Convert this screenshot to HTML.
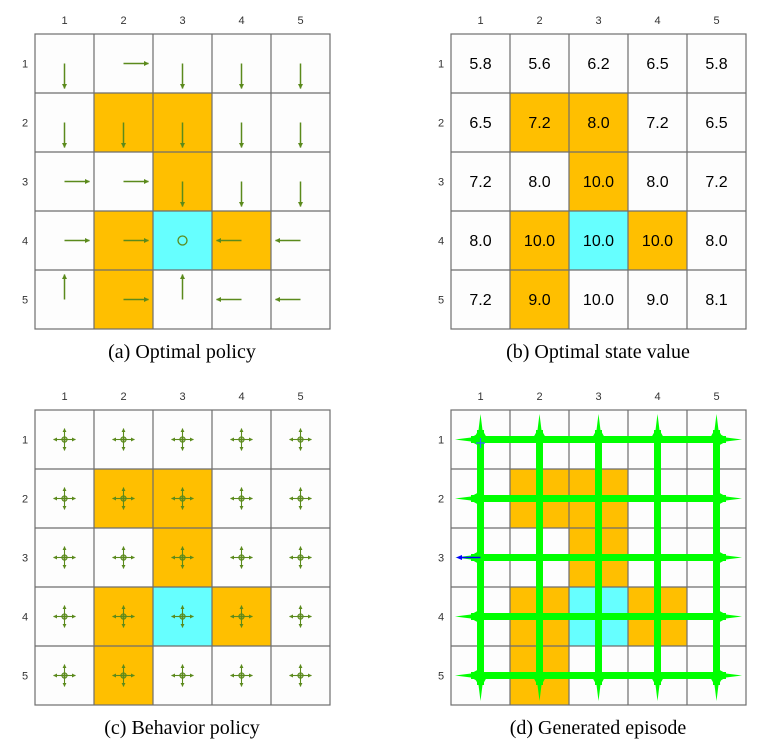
<!DOCTYPE html>
<html><head><meta charset="utf-8"><style>
html,body{margin:0;padding:0;background:#fff;width:777px;height:750px;overflow:hidden}
svg{display:block}
.ax{font-family:"Liberation Sans",sans-serif;font-size:11px;fill:#333}
.cap{font-family:"Liberation Serif",serif;font-size:20px;fill:#000}
.v{font-family:"Liberation Sans",sans-serif;font-size:16px;fill:#000}
</style></head><body>
<svg width="777" height="750" viewBox="0 0 777 750" xmlns="http://www.w3.org/2000/svg">
<defs>
<marker id="ah" viewBox="0 0 10 10" refX="9" refY="5" markerWidth="7" markerHeight="5" orient="auto" markerUnits="userSpaceOnUse"><path d="M0,0 L10,5 L0,10 z" fill="#5b8a1c"/></marker>
<marker id="ahs" viewBox="0 0 10 10" refX="9" refY="5" markerWidth="4" markerHeight="4" orient="auto" markerUnits="userSpaceOnUse"><path d="M0,0 L10,5 L0,10 z" fill="#5b8a1c"/></marker>
<g id="bg">
<rect x="0" y="0" width="295" height="295" fill="#fdfdfd"/>
<rect x="59" y="59" width="59" height="59" fill="#FFBF00"/>
<rect x="118" y="59" width="59" height="59" fill="#FFBF00"/>
<rect x="118" y="118" width="59" height="59" fill="#FFBF00"/>
<rect x="59" y="177" width="59" height="59" fill="#FFBF00"/>
<rect x="177" y="177" width="59" height="59" fill="#FFBF00"/>
<rect x="59" y="236" width="59" height="59" fill="#FFBF00"/>
<rect x="118" y="177" width="59" height="59" fill="#66FFFF"/>
<g stroke="#6e6e6e" stroke-width="1.2" fill="none">
<rect x="0" y="0" width="295" height="295"/>
<path d="M59,0V295M118,0V295M177,0V295M236,0V295M0,59H295M0,118H295M0,177H295M0,236H295"/>
</g>
</g>
<g id="lab" class="ax" text-anchor="middle">
<text x="29.5" y="-10">1</text><text x="88.5" y="-10">2</text><text x="147.5" y="-10">3</text><text x="206.5" y="-10">4</text><text x="265.5" y="-10">5</text>
<text x="-10" y="33.5">1</text><text x="-10" y="92.5">2</text><text x="-10" y="151.5">3</text><text x="-10" y="210.5">4</text><text x="-10" y="269.5">5</text>
</g>
<path id="D" d="M0,0V25" stroke="#5b8a1c" stroke-width="1.5" marker-end="url(#ah)"/>
<path id="R" d="M0,0H25" stroke="#5b8a1c" stroke-width="1.5" marker-end="url(#ah)"/>
<path id="L" d="M0,0H-25" stroke="#5b8a1c" stroke-width="1.5" marker-end="url(#ah)"/>
<path id="U" d="M0,0V-25" stroke="#5b8a1c" stroke-width="1.5" marker-end="url(#ah)"/>
<g id="B" stroke="#5b8a1c" stroke-width="1.1">
<path d="M0,0H11" marker-end="url(#ahs)"/><path d="M0,0H-11" marker-end="url(#ahs)"/>
<path d="M0,0V11" marker-end="url(#ahs)"/><path d="M0,0V-11" marker-end="url(#ahs)"/>
<circle r="2.6" fill="#5b8a1c" fill-opacity="0.5"/>
</g>
<g id="VL" fill="#00FF00">
<rect x="-3.5" y="20" width="7" height="255"/>
<path d="M0,4 L2,20 L7,29 L-7,29 L-2,20 z M0,291 L2,275 L7,266 L-7,266 L-2,275 z"/>
</g>
<g id="HL" fill="#00FF00">
<rect x="20" y="-3.5" width="255" height="7"/>
<path d="M4,0 L20,2 L29,7 L29,-7 L20,-2 z M291,0 L275,2 L266,7 L266,-7 L275,-2 z"/>
</g>
</defs>

<g transform="translate(35,34)">
<use href="#bg"/><use href="#lab"/>
<use href="#D" x="29.5" y="29.5"/><use href="#R" x="88.5" y="29.5"/><use href="#D" x="147.5" y="29.5"/><use href="#D" x="206.5" y="29.5"/><use href="#D" x="265.5" y="29.5"/>
<use href="#D" x="29.5" y="88.5"/><use href="#D" x="88.5" y="88.5"/><use href="#D" x="147.5" y="88.5"/><use href="#D" x="206.5" y="88.5"/><use href="#D" x="265.5" y="88.5"/>
<use href="#R" x="29.5" y="147.5"/><use href="#R" x="88.5" y="147.5"/><use href="#D" x="147.5" y="147.5"/><use href="#D" x="206.5" y="147.5"/><use href="#D" x="265.5" y="147.5"/>
<use href="#R" x="29.5" y="206.5"/><use href="#R" x="88.5" y="206.5"/><circle cx="147.5" cy="206.5" r="4.5" fill="none" stroke="#5b8a1c" stroke-width="1.3"/><use href="#L" x="206.5" y="206.5"/><use href="#L" x="265.5" y="206.5"/>
<use href="#U" x="29.5" y="265.5"/><use href="#R" x="88.5" y="265.5"/><use href="#U" x="147.5" y="265.5"/><use href="#L" x="206.5" y="265.5"/><use href="#L" x="265.5" y="265.5"/>
</g>
<text class="cap" x="182" y="358" text-anchor="middle">(a) Optimal policy</text>

<g transform="translate(451,34)">
<use href="#bg"/><use href="#lab"/>
<g class="v" text-anchor="middle">
<text x="29.5" y="35">5.8</text><text x="88.5" y="35">5.6</text><text x="147.5" y="35">6.2</text><text x="206.5" y="35">6.5</text><text x="265.5" y="35">5.8</text>
<text x="29.5" y="94">6.5</text><text x="88.5" y="94">7.2</text><text x="147.5" y="94">8.0</text><text x="206.5" y="94">7.2</text><text x="265.5" y="94">6.5</text>
<text x="29.5" y="153">7.2</text><text x="88.5" y="153">8.0</text><text x="147.5" y="153">10.0</text><text x="206.5" y="153">8.0</text><text x="265.5" y="153">7.2</text>
<text x="29.5" y="212">8.0</text><text x="88.5" y="212">10.0</text><text x="147.5" y="212">10.0</text><text x="206.5" y="212">10.0</text><text x="265.5" y="212">8.0</text>
<text x="29.5" y="271">7.2</text><text x="88.5" y="271">9.0</text><text x="147.5" y="271">10.0</text><text x="206.5" y="271">9.0</text><text x="265.5" y="271">8.1</text>
</g>
</g>
<text class="cap" x="598" y="358" text-anchor="middle">(b) Optimal state value</text>

<g transform="translate(35,410)">
<use href="#bg"/><use href="#lab"/>
<use href="#B" x="29.5" y="29.5"/><use href="#B" x="88.5" y="29.5"/><use href="#B" x="147.5" y="29.5"/><use href="#B" x="206.5" y="29.5"/><use href="#B" x="265.5" y="29.5"/>
<use href="#B" x="29.5" y="88.5"/><use href="#B" x="88.5" y="88.5"/><use href="#B" x="147.5" y="88.5"/><use href="#B" x="206.5" y="88.5"/><use href="#B" x="265.5" y="88.5"/>
<use href="#B" x="29.5" y="147.5"/><use href="#B" x="88.5" y="147.5"/><use href="#B" x="147.5" y="147.5"/><use href="#B" x="206.5" y="147.5"/><use href="#B" x="265.5" y="147.5"/>
<use href="#B" x="29.5" y="206.5"/><use href="#B" x="88.5" y="206.5"/><use href="#B" x="147.5" y="206.5"/><use href="#B" x="206.5" y="206.5"/><use href="#B" x="265.5" y="206.5"/>
<use href="#B" x="29.5" y="265.5"/><use href="#B" x="88.5" y="265.5"/><use href="#B" x="147.5" y="265.5"/><use href="#B" x="206.5" y="265.5"/><use href="#B" x="265.5" y="265.5"/>
</g>
<text class="cap" x="182" y="734" text-anchor="middle">(c) Behavior policy</text>

<g transform="translate(451,410)">
<use href="#bg"/><use href="#lab"/>
<use href="#VL" x="29.5"/><use href="#VL" x="88.5"/><use href="#VL" x="147.5"/><use href="#VL" x="206.5"/><use href="#VL" x="265.5"/>
<use href="#HL" y="29.5"/><use href="#HL" y="88.5"/><use href="#HL" y="147.5"/><use href="#HL" y="206.5"/><use href="#HL" y="265.5"/>
<path d="M29.5,147.5H8" stroke="#0000ff" stroke-width="1.5"/><path d="M5,147.5 L11,145 L11,150 z" fill="#0000ff"/>
<path d="M25,33 L34,33 M29.5,28 V38" stroke="#3366ff" stroke-width="1.2"/>
</g>
<text class="cap" x="598" y="734" text-anchor="middle">(d) Generated episode</text>
</svg>
</body></html>
